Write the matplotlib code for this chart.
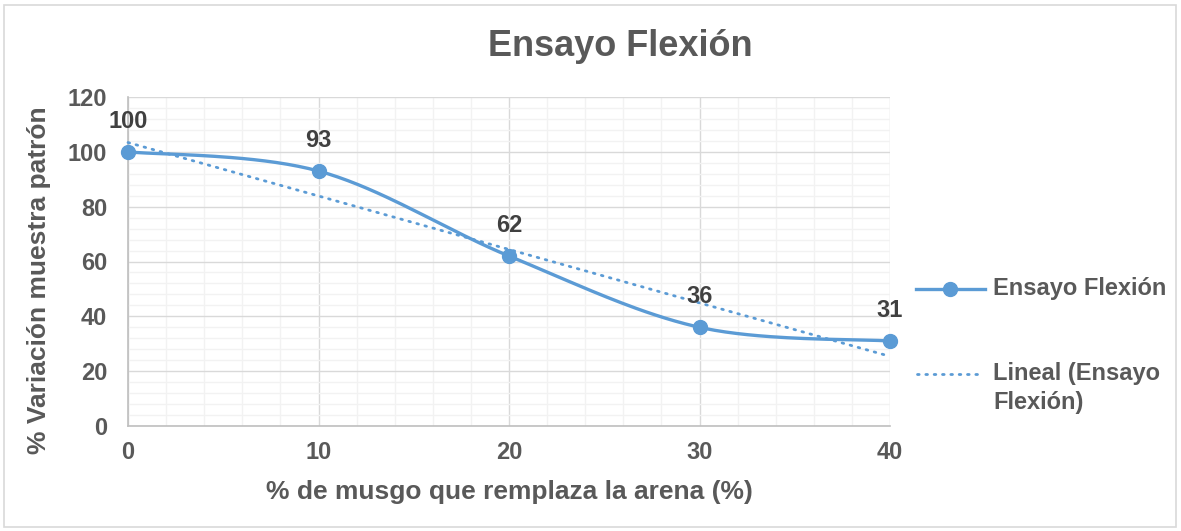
import numpy as np
import matplotlib
matplotlib.use("Agg")
import matplotlib.pyplot as plt
from matplotlib.lines import Line2D
from matplotlib.patches import Rectangle

# Data
pct_musgo = [0, 10, 20, 30, 40]
variacion = [100, 93, 62, 36, 31]
serie_label = "Ensayo Flexión"
trend_label = "Lineal (Ensayo\nFlexión)"

BLUE = "#5B9BD5"
TXT = "#595959"
LBL = "#404040"

plt.rcParams["font.family"] = ["Liberation Sans", "DejaVu Sans"]
plt.rcParams["font.weight"] = "bold"

W, H = 1181, 531
DOTS = (0, (0.6, 2.4))


def smooth_curve(x, y, n=40):
    """Bezier smoothing similar to a spreadsheet 'smoothed line'."""
    x = np.asarray(x, float)
    y = np.asarray(y, float)
    px, py = [], []
    N = len(x)
    for i in range(N - 1):
        x0, y0 = (x[i - 1], y[i - 1]) if i > 0 else (x[i], y[i])
        x3, y3 = (x[i + 2], y[i + 2]) if i + 2 < N else (x[i + 1], y[i + 1])
        c1x = x[i] + (x[i + 1] - x0) / 6
        c1y = y[i] + (y[i + 1] - y0) / 6
        c2x = x[i + 1] - (x3 - x[i]) / 6
        c2y = y[i + 1] - (y3 - y[i]) / 6
        t = np.linspace(0, 1, n)
        bx = ((1 - t) ** 3 * x[i] + 3 * (1 - t) ** 2 * t * c1x
              + 3 * (1 - t) * t ** 2 * c2x + t ** 3 * x[i + 1])
        by = ((1 - t) ** 3 * y[i] + 3 * (1 - t) ** 2 * t * c1y
              + 3 * (1 - t) * t ** 2 * c2y + t ** 3 * y[i + 1])
        px.extend(bx)
        py.extend(by)
    return np.array(px), np.array(py)


fig = plt.figure(figsize=(W / 100, H / 100), dpi=100)
fig.patches.append(Rectangle((4 / W, 4 / H), 1172 / W, 522 / H,
                             transform=fig.transFigure, fill=False,
                             edgecolor="#D9D9D9", linewidth=1.2))

ax = fig.add_axes([128 / W, 105 / H, 762 / W, 329 / H])
ax.set_xlim(0, 40)
ax.set_ylim(0, 120)

ax.set_xticks(np.arange(0, 41, 10))
ax.set_xticks(np.arange(0, 41, 2), minor=True)
ax.set_yticks(np.arange(0, 121, 20))
ax.set_yticks(np.arange(0, 121, 4), minor=True)
ax.grid(which="minor", color="#F2F2F2", linewidth=1.0)
ax.grid(which="major", color="#D9D9D9", linewidth=1.0)
ax.set_axisbelow(True)
for s in ["top", "right"]:
    ax.spines[s].set_visible(False)
for s in ["left", "bottom"]:
    ax.spines[s].set_color("#BFBFBF")
    ax.spines[s].set_linewidth(1.2)
ax.tick_params(which="both", length=0, labelsize=17, labelcolor=TXT)
ax.tick_params(axis="y", pad=15)
ax.tick_params(axis="x", pad=11)

# Smoothed series
sx, sy = smooth_curve(pct_musgo, variacion)
ax.plot(sx, sy, color=BLUE, linewidth=2.4, zorder=3, clip_on=False)
ax.plot(pct_musgo, variacion, "o", color=BLUE, markersize=10, zorder=4,
        clip_on=False)

# Linear trend line
slope, intercept = np.polyfit(pct_musgo, variacion, 1)
tx = np.array([0, 40])
ax.plot(tx, slope * tx + intercept, color=BLUE, linewidth=2.0,
        linestyle=DOTS, dash_capstyle="round", zorder=3, clip_on=False)

# Data labels
for x, y in zip(pct_musgo, variacion):
    ax.annotate(f"{y}", (x, y), xytext=(0, 22), textcoords="offset points",
                ha="center", va="center", fontsize=17, color=LBL,
                fontweight="bold", annotation_clip=False)

fig.text(620 / W, 1 - 47 / H, "Ensayo Flexión", ha="center",
         va="center", fontsize=26, color=TXT, fontweight="bold")
fig.text(509 / W, 1 - 492 / H, "% de musgo que remplaza la arena (%)",
         ha="center", va="center", fontsize=19, color=TXT,
         fontweight="bold")
fig.text(39 / W, 1 - 280 / H, "% Variación muestra patrón", ha="center",
         va="center", rotation=90, fontsize=19, color=TXT,
         fontweight="bold")

# Legend, laid out at the right of the plot
fig.add_artist(Line2D([916 / W, 985 / W], [1 - 289 / H, 1 - 289 / H],
                      transform=fig.transFigure, color=BLUE, linewidth=2.4))
fig.add_artist(Line2D([950 / W], [1 - 289 / H], transform=fig.transFigure,
                      color=BLUE, marker="o", markersize=10))
fig.text(993 / W, 1 - 289 / H, serie_label, ha="left", va="center",
         fontsize=17, color=TXT, fontweight="bold")
fig.add_artist(Line2D([917 / W, 983 / W], [1 - 374 / H, 1 - 374 / H],
                      transform=fig.transFigure, color=BLUE, linewidth=2.0,
                      linestyle=DOTS, dash_capstyle="round"))
fig.text(993 / W, 1 - 362 / H, trend_label, ha="left", va="top",
         fontsize=17, color=TXT, fontweight="bold", linespacing=1.35)

fig.savefig("out.png", dpi=100)
